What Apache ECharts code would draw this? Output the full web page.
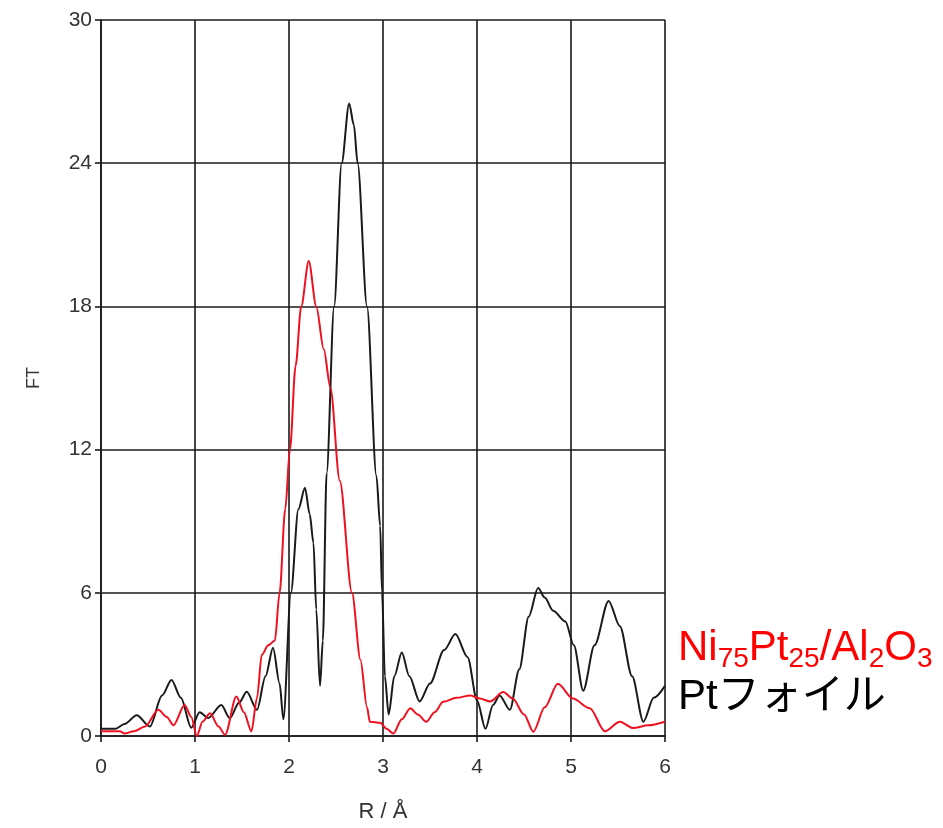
<!DOCTYPE html>
<html><head><meta charset="utf-8">
<script src="https://cdn.jsdelivr.net/npm/echarts@6/dist/echarts.min.js"></script>
<style>html,body{margin:0;padding:0;background:#fff}#c{width:943px;height:828px}</style>
</head><body><div id="c"></div>
<script>
// Tick values
const xTicks = [0, 1, 2, 3, 4, 5, 6];
const yTicks = [0, 6, 12, 18, 24, 30];

// Pt foil (black)
const ptFoilR  = [0, 0.15, 0.25, 0.38, 0.52, 0.65, 0.75, 0.85, 0.96, 1.05, 1.14, 1.28, 1.37, 1.47, 1.55, 1.66, 1.75, 1.83, 1.9, 1.94, 2.02, 2.1, 2.17, 2.22, 2.26, 2.29, 2.33, 2.36, 2.40, 2.48, 2.56, 2.64, 2.69, 2.73, 2.83, 2.93, 2.97, 2.99, 3.02, 3.06, 3.12, 3.2, 3.28, 3.39, 3.5, 3.65, 3.77, 3.9, 4.0, 4.09, 4.17, 4.24, 4.35, 4.45, 4.55, 4.65, 4.72, 4.81, 4.94, 5.03, 5.13, 5.25, 5.4, 5.52, 5.65, 5.77, 5.88, 6.0];
const ptFoilFT = [0.3, 0.3, 0.5, 0.87, 0.4, 1.7, 2.35, 1.6, 0.35, 1.0, 0.75, 1.3, 0.75, 1.4, 1.85, 1.1, 2.5, 3.7, 2.2, 0.7, 6.0, 9.5, 10.4, 9.3, 8.1, 5.3, 2.1, 4.0, 11.0, 18.0, 24.0, 26.5, 25.6, 24.0, 18.0, 10.9, 8.8, 6.0, 2.5, 0.9, 2.5, 3.5, 2.5, 1.45, 2.2, 3.6, 4.27, 3.3, 1.5, 0.3, 1.3, 1.7, 1.1, 2.8, 5.0, 6.2, 5.8, 5.25, 4.8, 3.8, 1.9, 3.8, 5.66, 4.6, 2.5, 0.6, 1.6, 2.1];

// Ni75Pt25/Al2O3 (red)
const niptR  = [0, 0.2, 0.25, 0.35, 0.47, 0.61, 0.7, 0.77, 0.89, 0.96, 1.02, 1.08, 1.16, 1.25, 1.32, 1.44, 1.52, 1.6, 1.66, 1.71, 1.78, 1.85, 1.9, 1.96, 2.01, 2.07, 2.13, 2.21, 2.29, 2.37, 2.44, 2.54, 2.67, 2.76, 2.83, 2.86, 2.97, 3.04, 3.11, 3.2, 3.29, 3.37, 3.46, 3.55, 3.64, 3.78, 3.93, 4.03, 4.14, 4.28, 4.38, 4.5, 4.6, 4.72, 4.86, 5.02, 5.2, 5.36, 5.52, 5.66, 5.82, 6.0];
const niptFT = [0.2, 0.2, 0.1, 0.2, 0.4, 1.1, 0.8, 0.45, 1.3, 0.8, 0.0, 0.6, 0.95, 0.4, 0.05, 1.65, 1.0, 0.2, 1.6, 3.4, 3.8, 4.0, 6.0, 9.5, 12.0, 15.5, 18.0, 19.9, 18.0, 16.2, 14.6, 10.7, 6.0, 3.2, 1.2, 0.6, 0.55, 0.3, 0.1, 0.7, 1.16, 0.9, 0.6, 1.0, 1.43, 1.6, 1.7, 1.57, 1.45, 1.84, 1.57, 0.9, 0.18, 1.2, 2.19, 1.57, 1.16, 0.2, 0.6, 0.33, 0.45, 0.6];

const seriesNames = ['Ptフォイル', 'Ni75Pt25/Al2O3'];
const xName = 'R / Å';
const yName = 'FT';

const FONT = "'Liberation Sans', Arial, 'Noto Sans CJK JP', sans-serif";
const zip = (a, b) => a.map((v, i) => [v, b[i]]);

const chart = echarts.init(document.getElementById('c'), null, {renderer: 'canvas'});
chart.setOption({
  animation: false,
  backgroundColor: '#fff',
  grid: {left: 101, right: 278, top: 20, bottom: 78},
  xAxis: {
    type: 'value', min: xTicks[0], max: xTicks[xTicks.length - 1], interval: xTicks[1] - xTicks[0],
    name: xName, nameLocation: 'middle', nameGap: 65,
    nameTextStyle: {fontFamily: FONT, fontSize: 22, color: '#333'},
    axisLine: {show: true, lineStyle: {color: '#1a1a1a', width: 1.6}},
    axisTick: {show: true, length: 6, inside: false, lineStyle: {color: '#1a1a1a', width: 1.6}},
    axisLabel: {fontFamily: FONT, fontSize: 21, color: '#333', margin: 21},
    splitLine: {show: true, lineStyle: {color: '#1a1a1a', width: 1.6}}
  },
  yAxis: {
    type: 'value', min: yTicks[0], max: yTicks[yTicks.length - 1], interval: yTicks[1] - yTicks[0],
    name: yName, nameLocation: 'middle', nameGap: 58, nameRotate: 90,
    nameTextStyle: {fontFamily: FONT, fontSize: 18, color: '#333'},
    axisLine: {show: true, lineStyle: {color: '#1a1a1a', width: 1.6}},
    axisTick: {show: true, length: 6, inside: false, lineStyle: {color: '#1a1a1a', width: 1.6}},
    axisLabel: {fontFamily: FONT, fontSize: 21, color: '#333', margin: 9},
    splitLine: {show: true, lineStyle: {color: '#1a1a1a', width: 1.6}}
  },
  series: [
    {name: seriesNames[0], type: 'line', data: zip(ptFoilR, ptFoilFT), showSymbol: false,
     smooth: 0.3, smoothMonotone: 'x', lineStyle: {color: '#1a1a1a', width: 2}, z: 3},
    {name: seriesNames[1], type: 'line', data: zip(niptR, niptFT), showSymbol: false,
     smooth: 0.3, smoothMonotone: 'x', lineStyle: {color: '#f01020', width: 2}, z: 4}
  ],
  graphic: [
    {type: 'text', left: 678, top: 627,
     style: {
       text: '{n|Ni}{s|75}{n|Pt}{s|25}{n|/Al}{s|2}{n|O}{s|3}',
       fill: '#ff0000',
       rich: {
         n: {fontFamily: FONT, fontSize: 42, lineHeight: 50, fill: '#ff0000'},
         s: {fontFamily: FONT, fontSize: 28, lineHeight: 24, verticalAlign: 'bottom', fill: '#ff0000'}
       }
     }},
    {type: 'text', left: 678, top: 672,
     style: {text: seriesNames[0], fontFamily: FONT, fontSize: 42, lineHeight: 50, fill: '#000'}}
  ]
});
</script>
</body></html>
